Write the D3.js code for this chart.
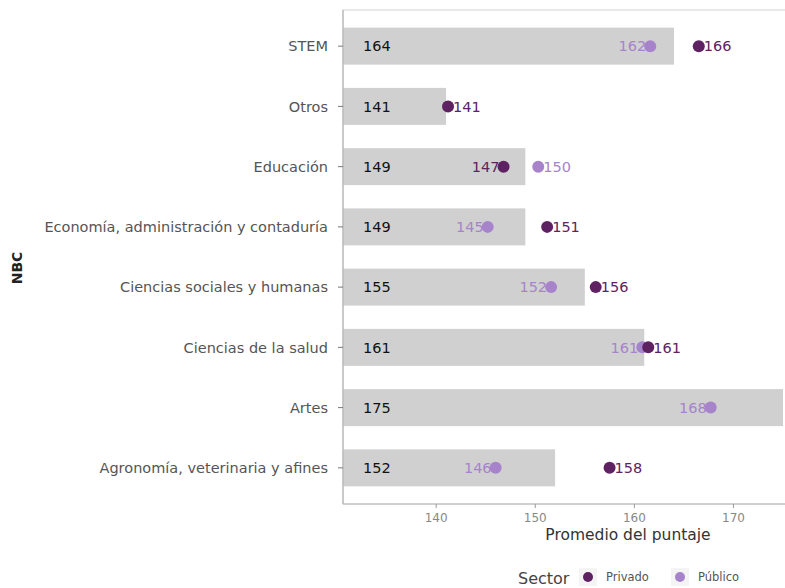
<!DOCTYPE html>
<html>
<head>
<meta charset="utf-8">
<script src="https://cdn.jsdelivr.net/npm/d3@7"></script>
<style>
  html, body { margin: 0; padding: 0; background: #fff; }
  svg { display: block; font-family: "DejaVu Sans", Verdana, sans-serif; }
</style>
</head>
<body>
<svg id="chart" width="785" height="588"></svg>
<script>
// ---- data ----
const categories = ["STEM", "Otros", "Educación", "Economía, administración y contaduría",
  "Ciencias sociales y humanas", "Ciencias de la salud", "Artes", "Agronomía, veterinaria y afines"];
const barValues   = [164, 141, 149, 149, 155, 161, 175, 152];
const barLabels   = ["164", "141", "149", "149", "155", "161", "175", "152"];
const privadoValues = [166.5, 141.2, 146.8, 151.2, 156.1, 161.4, null, 157.5];
const privadoLabels = ["166", "141", "147", "151", "156", "161", "", "158"];
const publicoValues = [161.6, null, 150.3, 145.2, 151.6, 160.8, 167.7, 146.0];
const publicoLabels = ["162", "", "150", "145", "152", "161", "168", "146"];
const xTicks = [140, 150, 160, 170];
const seriesNames = ["Privado", "Público"];
const seriesColors = ["#5e2263", "#a783cc"];

(function () {
// ---- layout ----
const svg = d3.select("#chart");
const pL = 343, pR = 786, pT = 10, pB = 504;

const x = d3.scaleLinear().domain([130.6, 175.3]).range([pL, pR]);
const y = d3.scalePoint().domain(categories).range([pT, pB]).padding(0.6);
const barH = 37;

svg.append("clipPath").attr("id", "panel")
  .append("rect").attr("x", pL).attr("y", pT).attr("width", pR - pL).attr("height", pB - pT);

// panel border
svg.append("rect").attr("x", pL).attr("y", pT).attr("width", pR - pL).attr("height", pB - pT)
  .attr("fill", "#fff").attr("stroke", "#d4d4d4").attr("stroke-width", 1);

const g = svg.append("g").attr("clip-path", "url(#panel)");

// bars
g.selectAll("rect.bar").data(categories).join("rect")
  .attr("class", "bar")
  .attr("x", x.range()[0])
  .attr("y", d => y(d) - barH / 2)
  .attr("width", (d, i) => x(barValues[i]) - x.range()[0])
  .attr("height", barH)
  .attr("fill", "#d0d0d0");

// bar labels
svg.selectAll("text.barlab").data(categories).join("text")
  .attr("class", "barlab")
  .attr("x", pL + 20)
  .attr("y", d => y(d))
  .attr("dy", "0.36em")
  .attr("font-size", 14.5)
  .attr("fill", "#111")
  .text((d, i) => barLabels[i]);

// points + labels
function sideOf(values, otherValues, i, singleSide) {
  if (otherValues[i] == null) return singleSide;
  return values[i] < otherValues[i] ? "left" : "right";
}
function drawSeries(values, labels, otherValues, color, cls, singleSide) {
  const idx = categories.map((c, i) => i).filter(i => values[i] != null);
  g.selectAll("circle." + cls).data(idx).join("circle")
    .attr("class", cls)
    .attr("cx", i => x(values[i]))
    .attr("cy", i => y(categories[i]))
    .attr("r", 6)
    .attr("fill", color);
  svg.selectAll("text." + cls).data(idx).join("text")
    .attr("class", cls)
    .attr("x", i => sideOf(values, otherValues, i, singleSide) === "left" ? x(values[i]) - 4 : x(values[i]) + 5)
    .attr("text-anchor", i => sideOf(values, otherValues, i, singleSide) === "left" ? "end" : "start")
    .attr("y", i => y(categories[i]))
    .attr("dy", "0.36em")
    .attr("font-size", 14.5)
    .attr("fill", color)
    .text(i => labels[i]);
}
drawSeries(publicoValues, publicoLabels, privadoValues, seriesColors[1], "pub", "left");
drawSeries(privadoValues, privadoLabels, publicoValues, seriesColors[0], "priv", "right");

// axes lines
svg.append("line").attr("x1", pL).attr("x2", pL).attr("y1", pT).attr("y2", pB)
  .attr("stroke", "#b5b5b5").attr("stroke-width", 1.2);
svg.append("line").attr("x1", pL).attr("x2", pR).attr("y1", pB).attr("y2", pB)
  .attr("stroke", "#b5b5b5").attr("stroke-width", 1.2);

// y axis ticks + labels
const ya = svg.append("g");
ya.selectAll("line").data(categories).join("line")
  .attr("x1", pL - 5).attr("x2", pL).attr("y1", d => y(d)).attr("y2", d => y(d))
  .attr("stroke", "#777");
ya.selectAll("text").data(categories).join("text")
  .attr("x", pL - 15).attr("y", d => y(d)).attr("dy", "0.36em")
  .attr("text-anchor", "end").attr("font-size", 14.5).attr("fill", "#555")
  .text(d => d);

// x axis ticks + labels
const xa = svg.append("g");
xa.selectAll("line").data(xTicks).join("line")
  .attr("x1", d => x(d)).attr("x2", d => x(d)).attr("y1", pB).attr("y2", pB + 4)
  .attr("stroke", "#999");
xa.selectAll("text").data(xTicks).join("text")
  .attr("x", d => x(d)).attr("y", pB + 18)
  .attr("text-anchor", "middle").attr("font-size", 12).attr("fill", "#888")
  .text(d => d);

// axis titles
svg.append("text").attr("x", 628).attr("y", 540).attr("text-anchor", "middle")
  .attr("font-size", 15.5).attr("fill", "#333").text("Promedio del puntaje");
svg.append("text").attr("transform", "translate(22,268) rotate(-90)").attr("text-anchor", "middle")
  .attr("font-size", 14).attr("font-weight", "bold").attr("fill", "#222").text("NBC");

// legend
const lg = svg.append("g");
lg.append("text").attr("x", 518).attr("y", 584).attr("font-size", 16).attr("fill", "#444").text("Sector");
const legX = [588, 680];
seriesNames.forEach((s, i) => {
  lg.append("rect").attr("x", legX[i] - 9).attr("y", 568).attr("width", 18).attr("height", 18).attr("fill", "#f4f4f4");
  lg.append("circle").attr("cx", legX[i]).attr("cy", 577).attr("r", 5).attr("fill", seriesColors[i]);
  lg.append("text").attr("x", legX[i] + 18).attr("y", 581).attr("font-size", 11.5).attr("fill", "#555").text(s);
});
})();
</script>
</body>
</html>
